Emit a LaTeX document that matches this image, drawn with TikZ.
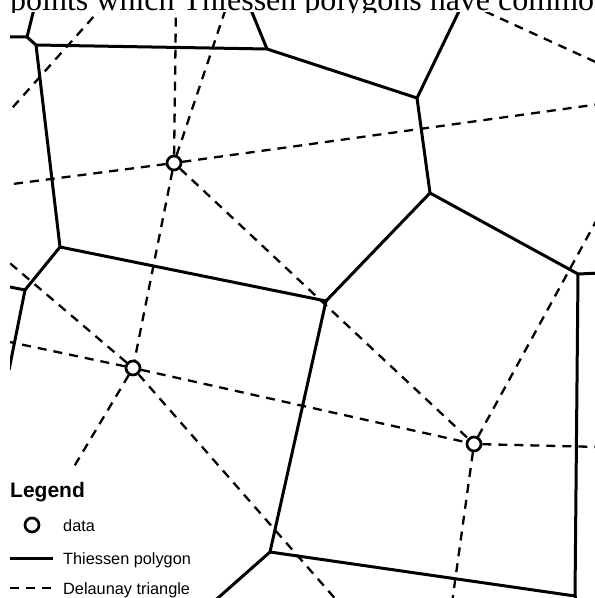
\documentclass[tikz,border=0pt]{standalone}
\usepackage{fontspec}
\setmainfont{Liberation Serif}
\newfontfamily\arialfont{Liberation Sans}
\tikzset{
  thiessen/.style={line width=3bp, line join=round},
  delaunay/.style={line width=2.3bp, dash pattern=on 9bp off 7bp},
  datapt/.style={circle, draw, line width=2.7bp, minimum size=14bp, inner sep=0pt, fill=white},
  legendtext/.style={font=\arialfont\fontsize{16.3bp}{18bp}\selectfont, anchor=base west, inner sep=0pt}
}
\begin{document}
\begin{tikzpicture}[x=1bp,y=-1bp]
\useasboundingbox (0,0) rectangle (595,598);

\begin{scope}
\clip (0,-30) rectangle (595,12.5);
\node[anchor=base west, inner sep=0pt, font=\fontsize{32bp}{36bp}\selectfont] (title) at (10,10.5) {points which Thiessen polygons have common};
\end{scope}

\begin{scope}
\clip (10,12.5) rectangle (595,598);
% data points
\node[datapt] (ptA) at (174,163) {};
\node[datapt] (ptB) at (133,368) {};
\node[datapt] (ptC) at (474,444) {};
% polygon vertices
\coordinate (v1) at (27,37);
\coordinate (v2) at (36,45);
\coordinate (v3) at (267,49);
\coordinate (v4) at (417,98);
\coordinate (v5) at (430,193);
\coordinate (v6) at (578,274);
\coordinate (v7) at (326,301);
\coordinate (v8) at (60,247);
\coordinate (v9) at (25,290);
\coordinate (v10) at (270,552);
\coordinate (v11) at (575,596);
\coordinate (e1) at (35,5);
\coordinate (e2) at (5,37);
\coordinate (e3) at (249,5);
\coordinate (e4) at (462,5);
\coordinate (e5) at (600,273);
\coordinate (e6) at (5,286);
\coordinate (e7) at (9,370);
\coordinate (e8) at (210,605);
\coordinate (e9) at (575,605);

\draw[thiessen] (e1) -- (v1) -- (e2);
\draw[thiessen] (v1) -- (v2) -- (v3) -- (v4) -- (v5) -- (v6) -- (e5);
\draw[thiessen] (e3) -- (v3);
\draw[thiessen] (e4) -- (v4);
\draw[thiessen] (v2) -- (v8) -- (v7) -- (v10) -- (v11) -- (v6);
\draw[thiessen] (v5) -- (v7);
\draw[thiessen] (e6) -- (v9) -- (e7);
\draw[thiessen] (v8) -- (v9);
\draw[thiessen] (v10) -- (e8);
\draw[thiessen] (v11) -- (e9);

% triangle edges
\coordinate (t1) at (176,5);
\coordinate (t2) at (227,5);
\coordinate (t3) at (600,104);
\coordinate (t4) at (5,185);
\coordinate (t5) at (5,341);
\coordinate (t6) at (5,259);
\coordinate (t7) at (72,470);
\coordinate (t8) at (339,603);
\coordinate (t9) at (600,214);
\coordinate (t10) at (600,447);
\coordinate (t11) at (452,603);
\coordinate (t12a) at (104,5);
\coordinate (t12b) at (5,116);
\coordinate (t13a) at (471,5);
\coordinate (t13b) at (600,64);

\draw[delaunay] (ptA) -- (t1);
\draw[delaunay] (ptA) -- (t2);
\draw[delaunay] (ptA) -- (t3);
\draw[delaunay] (ptA) -- (t4);
\draw[delaunay] (ptA) -- (ptC);
\draw[delaunay] (ptA) -- (ptB);
\draw[delaunay] (ptB) -- (t5);
\draw[delaunay] (ptB) -- (t6);
\draw[delaunay] (ptB) -- (t7);
\draw[delaunay] (ptB) -- (ptC);
\draw[delaunay] (ptB) -- (t8);
\draw[delaunay] (ptC) -- (t9);
\draw[delaunay] (ptC) -- (t10);
\draw[delaunay] (ptC) -- (t11);
\draw[delaunay] (t12a) -- (t12b);
\draw[delaunay] (t13a) -- (t13b);
\end{scope}

% legend
\node[anchor=base west, inner sep=0pt, font=\arialfont\bfseries\fontsize{21bp}{23bp}\selectfont] (legtitle) at (10,497) {Legend};
\node[datapt] (legdata) at (32,525) {};
\node[legendtext] (legdatatext) at (63,531) {data};
\coordinate (ls1) at (10,558);
\coordinate (ls2) at (53,558);
\draw[thiessen] (ls1) -- (ls2);
\node[legendtext] (legpolytext) at (63,564) {Thiessen polygon};
\coordinate (ld1) at (10,588);
\coordinate (ld2) at (53,588);
\draw[delaunay] (ld1) -- (ld2);
\node[legendtext] (legtritext) at (63,594) {Delaunay triangle};
\end{tikzpicture}
\end{document}
